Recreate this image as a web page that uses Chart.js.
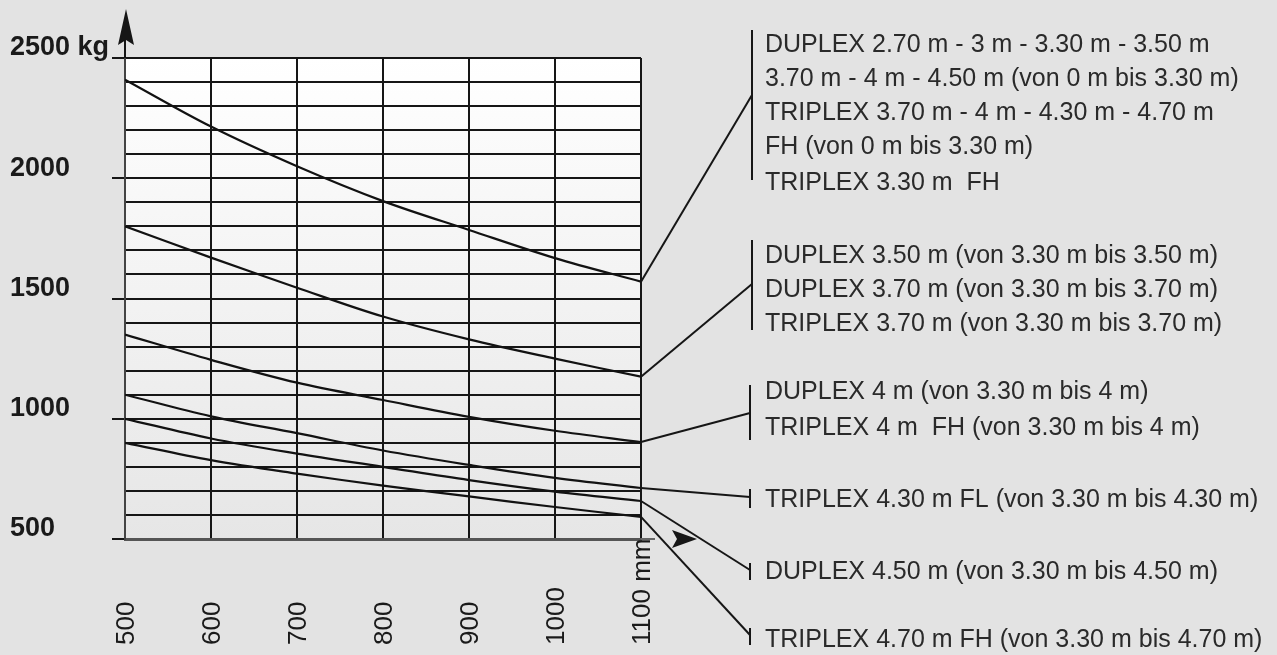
<!DOCTYPE html>
<html>
<head>
<meta charset="utf-8">
<script src="https://cdn.jsdelivr.net/npm/chart.js@4.4.1/dist/chart.umd.min.js"></script>
<style>
html,body{margin:0;padding:0;background:#e3e3e3;}
#wrap{width:1277px;height:655px;}
</style>
</head>
<body>
<div id="wrap"><canvas id="c" width="1277" height="655"></canvas></div>
<script>
// ---- data ----
const xTicks = [500, 600, 700, 800, 900, 1000, 1100];
const xTickLabels = ['500', '600', '700', '800', '900', '1000', '1100 mm'];
const yLabelValues = [500, 1000, 1500, 2000, 2500];
const yLabelTexts = ['500', '1000', '1500', '2000', '2500 kg'];

const curve1 = [2410, 2215, 2050, 1905, 1785, 1668, 1570];
const curve2 = [1800, 1670, 1545, 1425, 1330, 1250, 1175];
const curve3 = [1350, 1245, 1150, 1078, 1008, 950, 903];
const curve4 = [1100, 1010, 940, 868, 808, 754, 712];
const curve5 = [1000, 918, 855, 800, 745, 697, 658];
const curve6 = [900, 828, 772, 722, 677, 633, 592];

const legend1 = ['DUPLEX 2.70 m - 3 m - 3.30 m - 3.50 m', '3.70 m - 4 m - 4.50 m (von 0 m bis 3.30 m)', 'TRIPLEX 3.70 m - 4 m - 4.30 m - 4.70 m', 'FH (von 0 m bis 3.30 m)', 'TRIPLEX 3.30 m  FH'];
const legend2 = ['DUPLEX 3.50 m (von 3.30 m bis 3.50 m)', 'DUPLEX 3.70 m (von 3.30 m bis 3.70 m)', 'TRIPLEX 3.70 m (von 3.30 m bis 3.70 m)'];
const legend3 = ['DUPLEX 4 m (von 3.30 m bis 4 m)', 'TRIPLEX 4 m  FH (von 3.30 m bis 4 m)'];
const legend4 = ['TRIPLEX 4.30 m FL (von 3.30 m bis 4.30 m)'];
const legend5 = ['DUPLEX 4.50 m (von 3.30 m bis 4.50 m)'];
const legend6 = ['TRIPLEX 4.70 m FH (von 3.30 m bis 4.70 m)'];

// ---- build ----
const curves = [curve1, curve2, curve3, curve4, curve5, curve6];
const legends = [legend1, legend2, legend3, legend4, legend5, legend6];
// legend layout: text line centres, bracket, leader target
const legendLayout = [
  {lines: [45, 79, 113, 147, 183], bx: 752, by0: 30, by1: 180, ty: 95},
  {lines: [256, 290, 324], bx: 752, by0: 240, by1: 330, ty: 284},
  {lines: [392, 428], bx: 750, by0: 385, by1: 440, ty: 413},
  {lines: [500], bx: 750, by0: 489, by1: 508, ty: 497},
  {lines: [572], bx: 750, by0: 563, by1: 580, ty: 570},
  {lines: [640], bx: 750, by0: 628, by1: 645, ty: 635}
];

const datasets = curves.map(c => ({
  data: c.map((v, i) => ({x: xTicks[i], y: v})),
  borderColor: '#121212',
  borderWidth: 2.2,
  pointRadius: 0,
  tension: 0.35,
  fill: false
}));

const INK = '#161616';

const decor = {
  id: 'decor',
  beforeDraw(chart) {
    const {ctx, chartArea: a} = chart;
    ctx.save();
    ctx.fillStyle = '#e3e3e3';
    ctx.fillRect(0, 0, chart.width, chart.height);
    const g = ctx.createLinearGradient(0, a.top, 0, a.bottom);
    g.addColorStop(0, '#ffffff');
    g.addColorStop(1, '#e6e6e6');
    ctx.fillStyle = g;
    ctx.fillRect(a.left, a.top, a.right - a.left, a.bottom - a.top);
    ctx.restore();
  },
  afterDraw(chart) {
    const {ctx, chartArea: a, scales: {x, y}} = chart;
    ctx.save();
    // y axis extension and arrow
    ctx.strokeStyle = INK; ctx.lineWidth = 2;
    ctx.beginPath(); ctx.moveTo(a.left, a.top); ctx.lineTo(a.left, 40); ctx.stroke();
    ctx.fillStyle = INK;
    ctx.beginPath(); ctx.moveTo(a.left + 1, 9); ctx.lineTo(a.left + 9, 45); ctx.lineTo(a.left + 1, 40); ctx.lineTo(a.left - 7, 45); ctx.closePath(); ctx.fill();
    // x axis arrow
    ctx.strokeStyle = '#666'; ctx.lineWidth = 2;
    ctx.beginPath(); ctx.moveTo(a.right, a.bottom); ctx.lineTo(a.right + 14, a.bottom); ctx.stroke();
    ctx.fillStyle = INK;
    ctx.beginPath(); ctx.moveTo(697, a.bottom); ctx.lineTo(672, a.bottom - 9); ctx.lineTo(677, a.bottom); ctx.lineTo(672, a.bottom + 9); ctx.closePath(); ctx.fill();

    // x tick labels (rotated)
    ctx.fillStyle = '#1a1a1a';
    ctx.font = '26px "Liberation Sans", Arial, sans-serif';
    ctx.textAlign = 'left'; ctx.textBaseline = 'middle';
    xTicks.forEach((v, i) => {
      const px = x.getPixelForValue(v);
      ctx.save(); ctx.translate(px + 2, 645); ctx.rotate(-Math.PI / 2);
      ctx.fillText(xTickLabels[i], 0, 0);
      ctx.restore();
    });

    // leader lines, brackets, legend text
    ctx.lineWidth = 2; ctx.strokeStyle = INK;
    ctx.font = '25px "Liberation Sans", Arial, sans-serif';
    ctx.textBaseline = 'middle'; ctx.textAlign = 'left';
    curves.forEach((c, i) => {
      const L = legendLayout[i];
      const ex = x.getPixelForValue(xTicks[xTicks.length - 1]);
      const ey = y.getPixelForValue(c[c.length - 1]);
      ctx.beginPath(); ctx.moveTo(ex, ey); ctx.lineTo(L.bx, L.ty); ctx.stroke();
      ctx.beginPath(); ctx.moveTo(L.bx, L.by0); ctx.lineTo(L.bx, L.by1); ctx.stroke();
      ctx.fillStyle = '#2a2a2a';
      legends[i].forEach((t, j) => ctx.fillText(t, 765, L.lines[j]));
    });
    ctx.restore();
  }
};

new Chart(document.getElementById('c'), {
  type: 'line',
  data: {datasets},
  options: {
    responsive: false,
    devicePixelRatio: 1,
    animation: false,
    layout: {padding: {left: 10, top: 58, right: 636, bottom: 0}},
    plugins: {legend: {display: false}, tooltip: {enabled: false}},
    scales: {
      x: {
        type: 'linear', min: 500, max: 1100,
        ticks: {stepSize: 100, display: false, autoSkip: false, maxTicksLimit: 30},
        grid: {color: INK, lineWidth: 2, drawTicks: false},
        border: {color: '#555', width: 3},
        afterFit(s) { s.height = 116; }
      },
      y: {
        type: 'linear', min: 500, max: 2500,
        ticks: {
          stepSize: 100, autoSkip: false, maxTicksLimit: 30,
          crossAlign: 'far', labelOffset: -10, padding: 0,
          color: '#1a1a1a',
          font: {family: '"Liberation Sans", Arial, sans-serif', size: 27, weight: 'bold'},
          callback(v) { const k = yLabelValues.indexOf(v); return k >= 0 ? yLabelTexts[k] : ''; }
        },
        grid: {
          color: INK, lineWidth: 2, tickLength: 13,
          tickColor: (c) => (c.tick && yLabelValues.indexOf(c.tick.value) >= 0) ? INK : 'rgba(0,0,0,0)'
        },
        border: {color: '#444', width: 2},
        afterFit(s) { s.width = 115; }
      }
    }
  },
  plugins: [decor]
});
</script>
</body>
</html>
